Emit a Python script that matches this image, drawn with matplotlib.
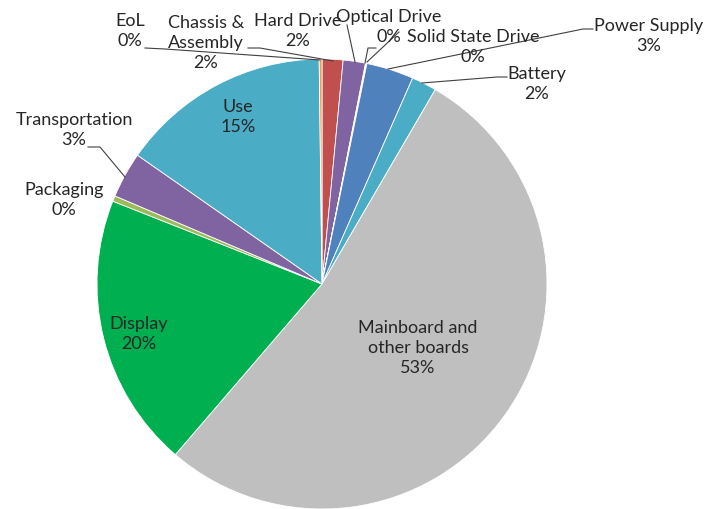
import matplotlib.pyplot as plt

plt.rcParams['font.family'] = ['Lato', 'DejaVu Sans']

# slices, clockwise from 12 o'clock
names = ['Chassis &\nAssembly', 'Hard Drive', 'Optical Drive', 'Solid State Drive',
         'Power Supply', 'Battery', 'Mainboard and\nother boards', 'Display',
         'Packaging', 'Transportation', 'Use', 'EoL']
shares = [1.5, 1.6, 0.05, 0.05, 3.4, 1.8, 52.9, 19.7, 0.4, 3.3, 15.1, 0.2]
colors = ['#C0504D', '#8064A2', '#8064A2', '#4F81BD', '#4F81BD', '#4BACC6',
          '#BFBFBF', '#00B050', '#9BBB59', '#8064A2', '#4BACC6', '#F79646']

# label centres in pixels (x, y from top)
label_pos = [(206, 43), (298, 31), (389, 27), (473, 47), (649, 36), (537, 84),
             (418, 348), (139, 334), (64, 200), (74, 130), (238, 117), (130, 31)]

# leader lines in pixels
leaders = [
    [(145, 49), (165, 50), (320, 61)],
    [(248, 49), (260, 49), (333, 62)],
    [(347, 26), (355, 63)],
    [(376, 49), (368, 49), (365, 64)],
    [(399, 33), (367, 63)],
    [(593, 30), (583, 30), (388, 70)],
    [(507, 78), (497, 78), (422, 84)],
    [(88, 148), (100, 148), (125, 178)],
]

CX, CY, R = 322, 285, 225


def px(x, y):
    return (x - CX) / R, (CY - y) / R


fig = plt.figure(figsize=(7.2, 5.1), dpi=100)
ax = fig.add_axes([0, 0, 1, 1])
ax.pie(shares, colors=colors, startangle=90, counterclock=False,
       wedgeprops=dict(edgecolor='white', linewidth=0.6))

for name, val, (x, y) in zip(names, shares, label_pos):
    tx, ty = px(x, y)
    ax.text(tx, ty, f'{name}\n{val:.0f}%', ha='center', va='center',
            fontsize=13, color='#262626', linespacing=1.33)

for line in leaders:
    pts = [px(x, y) for x, y in line]
    ax.plot([p[0] for p in pts], [p[1] for p in pts], color='#404040', lw=0.8)

ax.set_xlim(px(0, 0)[0], px(720, 0)[0])
ax.set_ylim(px(0, 510)[1], px(0, 0)[1])
ax.set_aspect('auto')
ax.axis('off')

fig.savefig('out.png', dpi=100)
